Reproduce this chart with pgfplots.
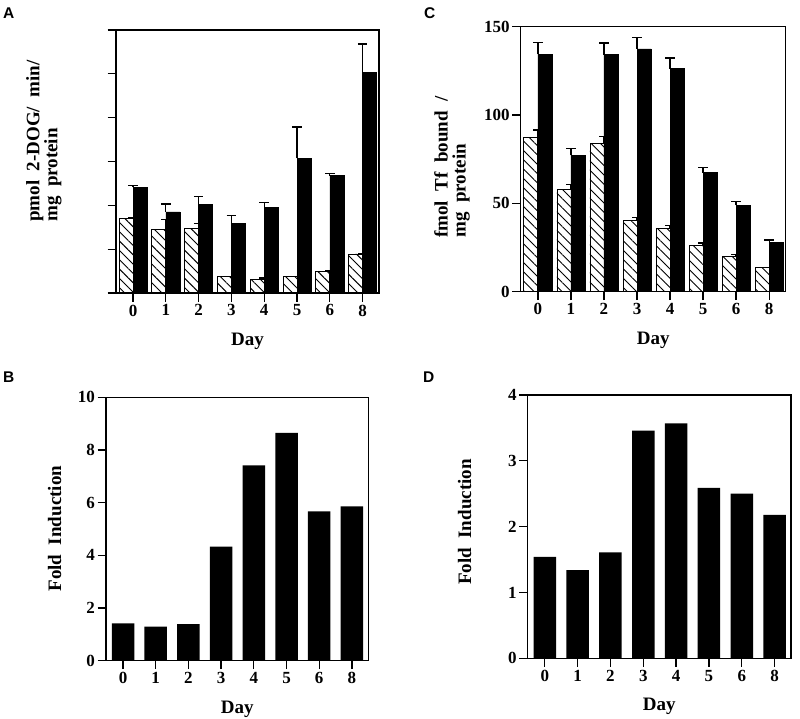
\documentclass[border=0pt]{standalone}
\usepackage{fontspec}
\setmainfont{Liberation Serif}
\newfontfamily\panelfont{Liberation Sans}
\usepackage{pgfplots}
\usepackage{pgfplotstable}
\pgfplotsset{compat=1.18}
\usetikzlibrary{patterns.meta}

% Panel A (arbitrary units, 6 unlabeled tick intervals)
\pgfplotstableread{
x  h     he    b     be
0  1.71  0.02  2.41  0.05
1  1.44  0.23  1.85  0.18
2  1.47  0.12  2.02  0.18
3  0.38  0.00  1.59  0.175
4  0.30  0.04  1.96  0.10
5  0.38  0.00  3.07  0.72
6  0.50  0.00  2.68  0.05
7  0.89  0.00  5.03  0.65
}\dataA
% Panel C
\pgfplotstableread{
x  h     he    b      be
0  87.4  4.1   134.5  6.5
1  57.7  3.1   77.2   3.8
2  84.0  4.0   134.2  6.6
3  40.2  1.7   137.4  6.6
4  35.7  1.7   126.2  6.1
5  26.0  1.5   67.4   3.0
6  20.2  0.8   48.9   2.2
7  13.6  0.0   28.1   1.1
}\dataC
% Panel B
\pgfplotstableread{
x  y
0  1.42
1  1.29
2  1.39
3  4.33
4  7.42
5  8.65
6  5.67
7  5.86
}\dataB
% Panel D
\pgfplotstableread{
x  y
0  1.54
1  1.34
2  1.61
3  3.46
4  3.57
5  2.59
6  2.50
7  2.18
}\dataD

\pgfplotsset{
  myaxis/.style={
    scale only axis,
    anchor=south west,
    axis line style={line width=1.3pt},
    every tick/.style={line width=1.3pt, black},
    major tick length=8.5pt,
    tick align=outside,
    xtick pos=bottom, ytick pos=left,
    xtick={0,...,7},
    xticklabels={0,1,2,3,4,5,6,8},
    xmin=-0.52, xmax=7.5,
    ymin=0,
    /pgf/number format/assume math mode=true,
    ticklabel style={font=\fontsize{17}{17}\selectfont\bfseries},
    xticklabel style={inner sep=3pt},
    yticklabel style={inner sep=2.5pt},
    label style={font=\fontsize{19}{18}\selectfont\bfseries, inner sep=0pt},
    xlabel={Day},
    xlabel style={at={(axis description cs:0.5,-0.152)}, anchor=north},
    ylabel style={align=left, anchor=south west},
  },
  hatchbar/.style={ybar, bar width=14pt, bar shift=-7pt, draw=black, line width=0.8pt,
    pattern={Lines[angle=-45, distance=6.6pt, line width=0.9pt]}},
  solidbar/.style={ybar, bar width=14pt, bar shift=7pt, draw=black, line width=0.5pt, fill=black},
  errs/.style={error bars/.cd, y dir=plus, y explicit,
    error bar style={line width=1.3pt, black},
    error mark options={rotate=90, mark size=4.8pt, line width=1.3pt, black}},
  bigbar/.style={ybar, bar width=22.5pt, draw=none, fill=black},
}

\begin{document}
\begin{tikzpicture}
\path[use as bounding box] (0pt,0pt) rectangle (800pt,-719pt);

% ---------------- A ----------------
\begin{axis}[myaxis, at={(116pt,-293pt)}, width=263pt, height=263pt,
  ymax=6, ytick={0,...,6}, yticklabels={},
  ylabel={pmol~~2-DOG/~~min/\\mg~~protein},
  ylabel style={at={(axis description cs:-0.206,0.27)}}]
\addplot[hatchbar, errs] table[x=x, y=h, y error=he] {\dataA};
\addplot[solidbar, errs] table[x=x, y=b, y error=be] {\dataA};
\end{axis}

% ---------------- C ----------------
\begin{axis}[myaxis, at={(520.7pt,-291.7pt)}, width=265pt, height=265pt,
  ymax=150, ytick={0,50,100,150},
  ylabel={fmol~~Tf~~bound~~/\\mg~~protein},
  ylabel style={at={(axis description cs:-0.191,0.203)}}]
\addplot[hatchbar, errs] table[x=x, y=h, y error=he] {\dataC};
\addplot[solidbar, errs] table[x=x, y=b, y error=be] {\dataC};
\end{axis}

% ---------------- B ----------------
\begin{axis}[myaxis, at={(106pt,-660.7pt)}, width=262.3pt, height=263.4pt,
  ymax=10, ytick={0,2,...,10},
  ylabel={Fold~~Induction},
  ylabel style={at={(axis description cs:-0.169,0.262)}}]
\addplot[bigbar] table[x=x, y=y] {\dataB};
\end{axis}

% ---------------- D ----------------
\begin{axis}[myaxis, at={(527.7pt,-658.3pt)}, width=263.3pt, height=263.3pt,
  ymax=4, ytick={0,...,4},
  ylabel={Fold~~Induction},
  ylabel style={at={(axis description cs:-0.213,0.278)}}]
\addplot[bigbar] table[x=x, y=y] {\dataD};
\end{axis}

% panel letters
\begin{scope}[every node/.style={anchor=base west, inner sep=0pt, font=\panelfont\bfseries\fontsize{15.5}{15.5}\selectfont}]
\node at (3pt,-18.5pt) {A};
\node at (424pt,-18.5pt) {C};
\node at (3pt,-382.7pt) {B};
\node at (423pt,-382.7pt) {D};
\end{scope}
\end{tikzpicture}
\end{document}
